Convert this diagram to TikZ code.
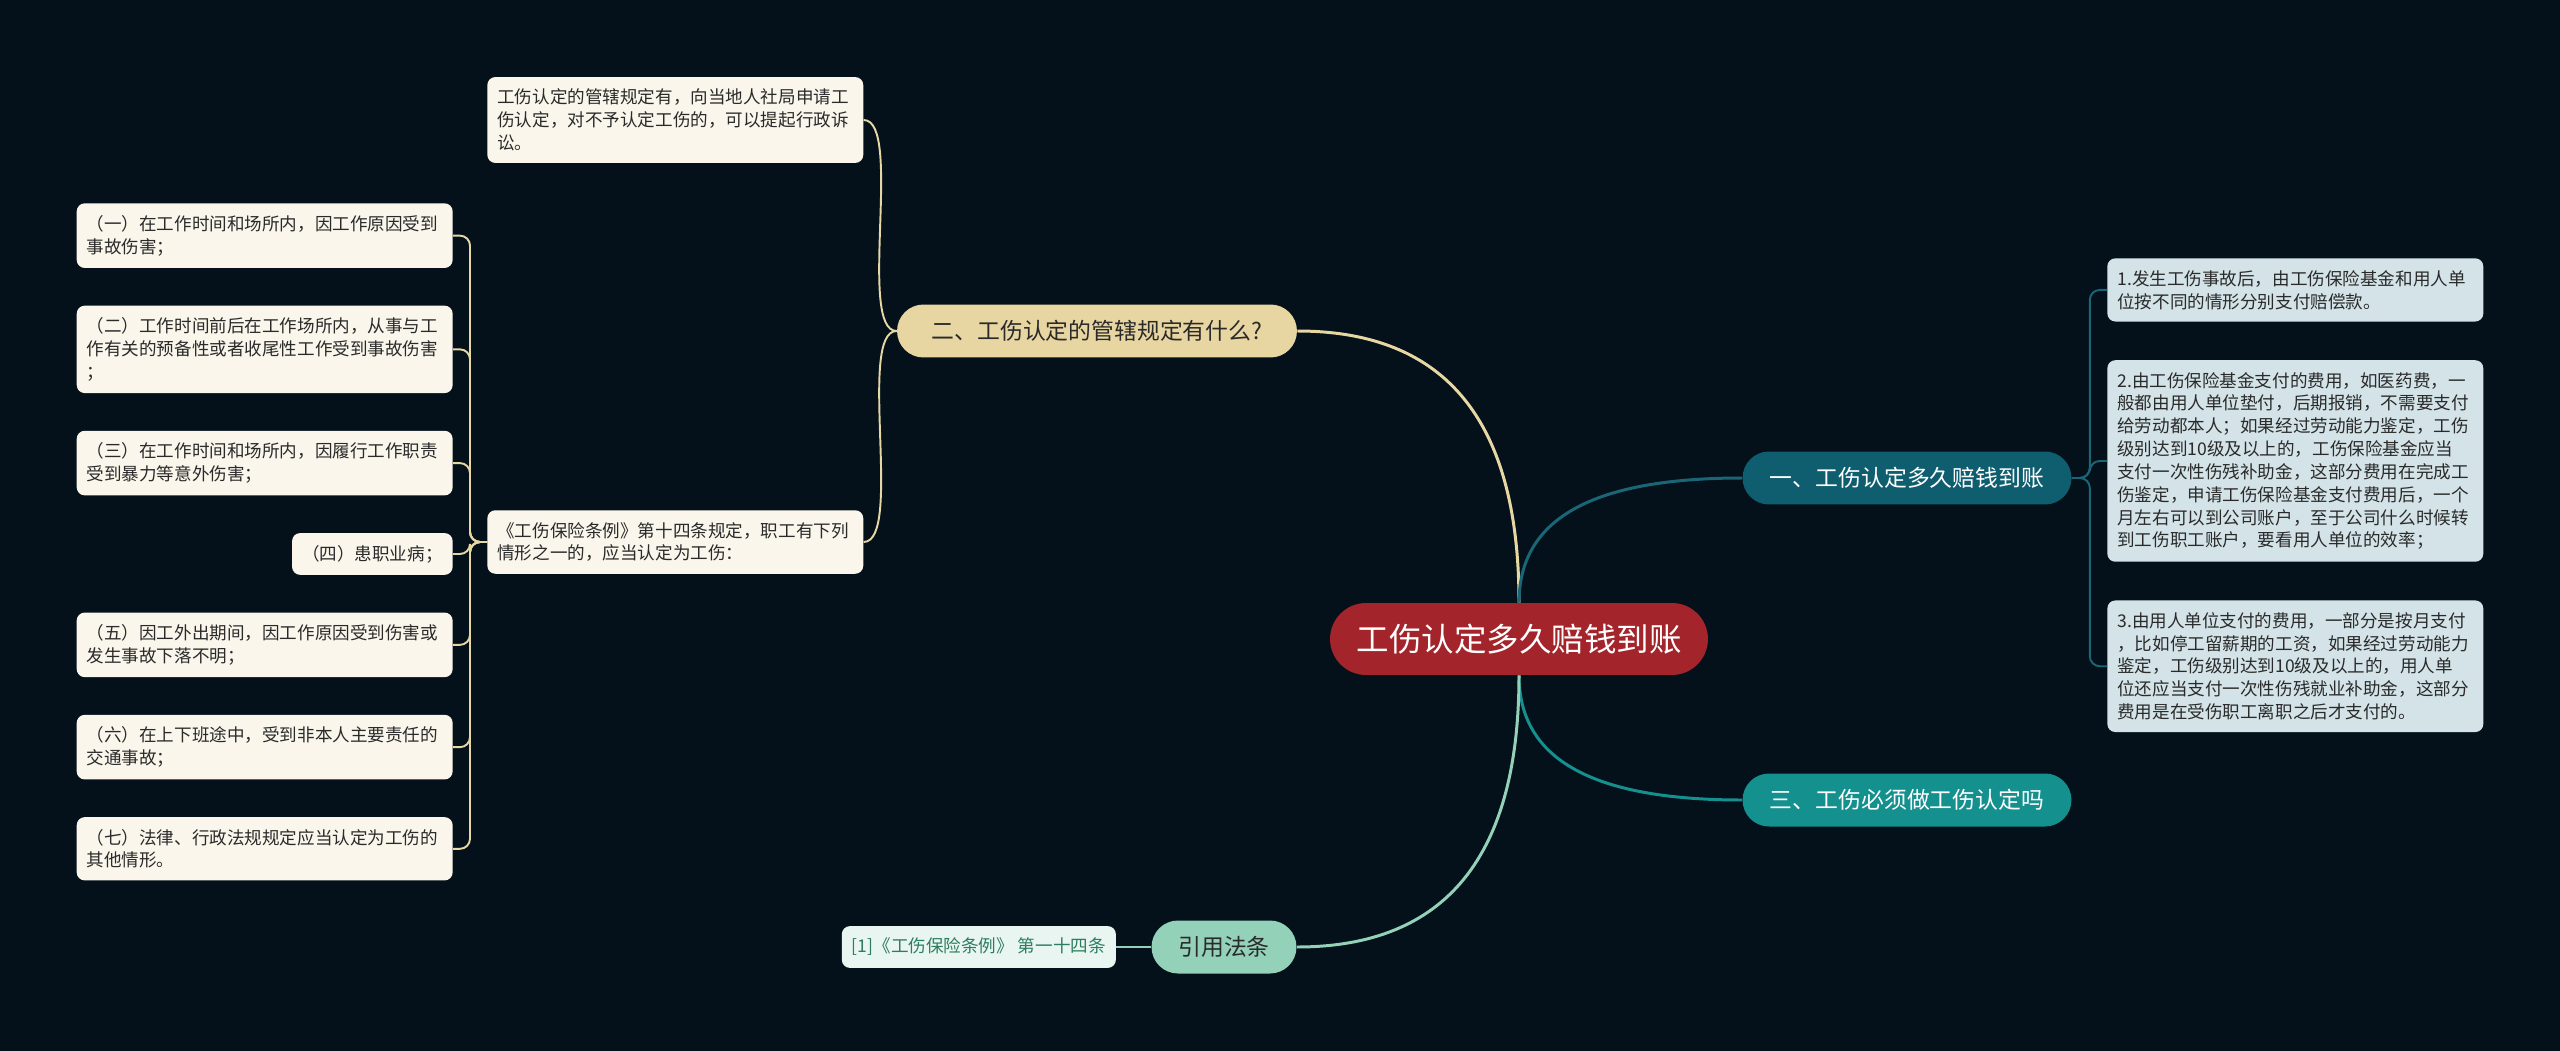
\documentclass[tikz,border=0pt]{standalone}
\usepackage{fontspec}
\setmainfont{Noto Sans CJK SC}
\usetikzlibrary{positioning}
\definecolor{mapBg}{HTML}{04111A}
\definecolor{mapRed}{HTML}{A3242B}
\definecolor{mapTealDark}{HTML}{0F5E6F}
\definecolor{mapTeal}{HTML}{14908F}
\definecolor{mapSand}{HTML}{E8D6A2}
\definecolor{mapMint}{HTML}{93D1B8}
\definecolor{mapCream}{HTML}{FAF6EC}
\definecolor{mapIce}{HTML}{D3E3E8}
\definecolor{mapPale}{HTML}{E8F5F0}
\definecolor{mapInk}{HTML}{2A2A2A}
\definecolor{mapGreen}{HTML}{2E7D5F}
\definecolor{lineSand}{HTML}{E6D7A3}
\definecolor{lineTeal}{HTML}{1B6676}

\begin{document}
\begin{tikzpicture}[x=0.02cm, y=-0.02cm,
      root/.style={rounded corners=0.72cm, fill=mapRed, text=white,
        minimum width=7.56cm, minimum height=1.44cm, font=\fontsize{18.5}{22}\selectfont},
      br/.style={rounded corners=0.53cm, minimum height=1.06cm, font=\fontsize{13}{16}\selectfont},
      lf/.style={rounded corners=0.16cm, fill=mapCream, text=mapInk, align=left,
        inner xsep=0.2cm, inner ysep=6.8pt, font=\fontsize{10}{13}\selectfont},
      wide/.style={lf, text width=7.12cm},
      ri/.style={wide, fill=mapIce},
      edge/.style={line width=1.7pt},
      twig/.style={line width=1.1pt, rounded corners=0.2cm}]
    \fill[mapBg] (0,0) rectangle (2560,1051);
    \useasboundingbox (0,0) rectangle (2560,1051);
    % root and main branches
    \node[root] (c) at (1519,639) {工伤认定多久赔钱到账};
    \node[br, fill=mapTealDark, text=white, minimum width=6.58cm] (b1) at (1907,478) {一、工伤认定多久赔钱到账};
    \node[br, fill=mapTeal, text=white, minimum width=6.58cm] (b3) at (1907,800) {三、工伤必须做工伤认定吗};
    \node[br, fill=mapSand, text=mapInk, minimum width=8cm] (b2) at (1097,331) {二、工伤认定的管辖规定有什么?};
    \node[br, fill=mapMint, text=mapInk, minimum width=2.9cm] (law) at (1224,947) {引用法条};
    \node[lf, fill=mapPale, text=mapGreen, minimum height=0.8cm, left=0.7cm of law] (cite) {[1]《工伤保险条例》 第一十四条};
    \draw[edge, lineSand] (c.north) .. controls +(0,-180) and +(150,0) .. (b2.east);
    \draw[edge, lineTeal] (c.north) .. controls +(0,-84) and +(-150,0) .. (b1.west);
    \draw[edge, mapTeal] (c.south) .. controls +(0,84) and +(-150,0) .. (b3.west);
    \draw[edge, mapMint] (c.south) .. controls +(0,180) and +(150,0) .. (law.east);
    \draw[twig, mapMint] (law) -- (cite);
    % right column: payment
    \node[ri, anchor=north west] (r1) at (2107,258)
      {1.发生工伤事故后，由工伤保险基金和用人单\\位按不同的情形分别支付赔偿款。};
    \node[ri, below=0.76cm of r1.south west, anchor=north west] (r2)
      {2.由工伤保险基金支付的费用，如医药费，一\\般都由用人单位垫付，后期报销，不需要支付\\给劳动都本人；如果经过劳动能力鉴定，工伤\\级别达到10级及以上的，工伤保险基金应当\\支付一次性伤残补助金，这部分费用在完成工\\伤鉴定，申请工伤保险基金支付费用后，一个\\月左右可以到公司账户，至于公司什么时候转\\到工伤职工账户，要看用人单位的效率；};
    \node[ri, below=0.76cm of r2.south west, anchor=north west] (r3)
      {3.由用人单位支付的费用，一部分是按月支付\\，比如停工留薪期的工资，如果经过劳动能力\\鉴定，工伤级别达到10级及以上的，用人单\\位还应当支付一次性伤残就业补助金，这部分\\费用是在受伤职工离职之后才支付的。};
    \foreach \r in {r1,r2,r3}
      \draw[twig, lineTeal] (b1.east) -- ++(18,0) |- (\r.west);
    % middle column: jurisdiction
    \node[wide, anchor=west] (la) at (487,120)
      {工伤认定的管辖规定有，向当地人社局申请工\\伤认定，对不予认定工伤的，可以提起行政诉\\讼。};
    \node[wide, anchor=west] (lb) at (487,542)
      {《工伤保险条例》第十四条规定，职工有下列\\情形之一的，应当认定为工伤：};
    \draw[twig, lineSand] (b2.west) .. controls +(-40,0) and +(40,0) .. (la.east);
    \draw[twig, lineSand] (b2.west) .. controls +(-40,0) and +(40,0) .. (lb.east);
    % left column: the seven cases
    \node[wide, anchor=north east] (l1) at (453,203)
      {（一）在工作时间和场所内，因工作原因受到\\事故伤害；};
    \node[wide, below=0.74cm of l1.south east, anchor=north east] (l2)
      {（二）工作时间前后在工作场所内，从事与工\\作有关的预备性或者收尾性工作受到事故伤害\\；};
    \node[wide, below=0.74cm of l2.south east, anchor=north east] (l3)
      {（三）在工作时间和场所内，因履行工作职责\\受到暴力等意外伤害；};
    \node[lf, below=0.74cm of l3.south east, anchor=north east] (l4) {（四）患职业病；};
    \node[wide, below=0.74cm of l4.south east, anchor=north east] (l5)
      {（五）因工外出期间，因工作原因受到伤害或\\发生事故下落不明；};
    \node[wide, below=0.74cm of l5.south east, anchor=north east] (l6)
      {（六）在上下班途中，受到非本人主要责任的\\交通事故；};
    \node[wide, below=0.74cm of l6.south east, anchor=north east] (l7)
      {（七）法律、行政法规规定应当认定为工伤的\\其他情形。};
    \foreach \l in {l1,l2,l3,l4,l5,l6,l7}
      \draw[twig, lineSand] (lb.west) -- ++(-17,0) |- (\l.east);
  \end{tikzpicture}
\end{document}
